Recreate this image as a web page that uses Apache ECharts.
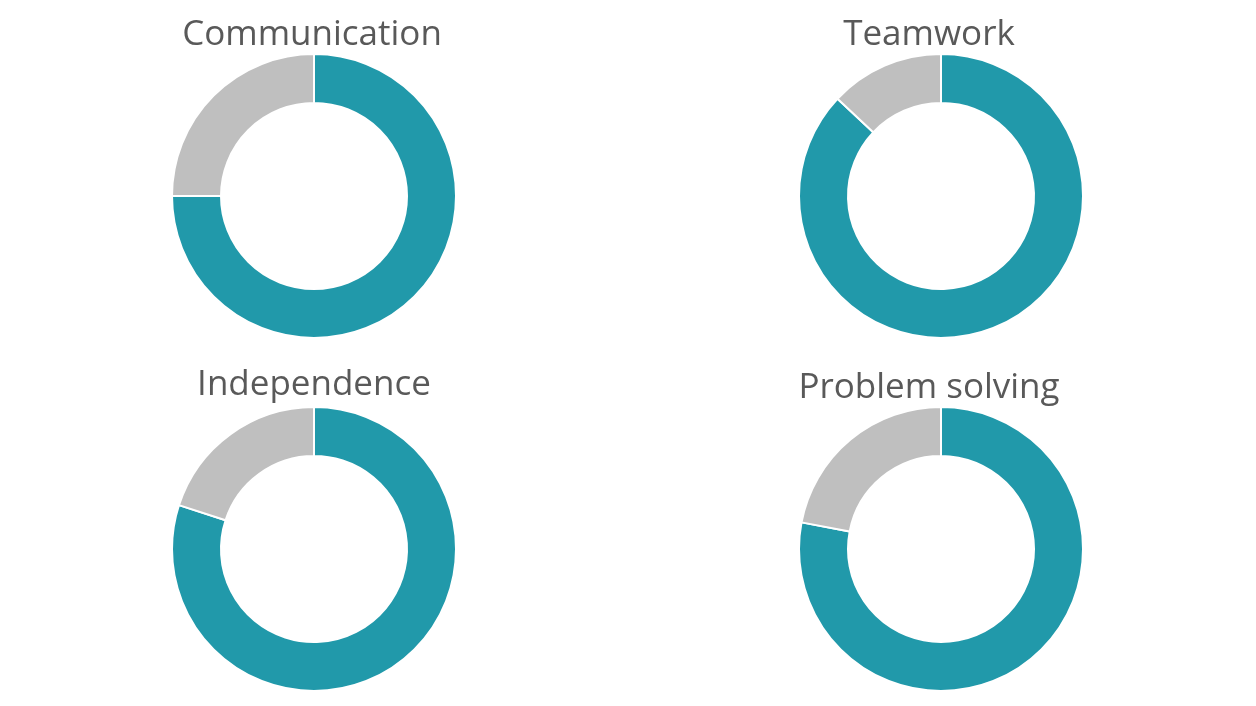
<!DOCTYPE html>
<html>
<head>
<meta charset="utf-8">
<script src="https://cdn.jsdelivr.net/npm/echarts@6/dist/echarts.min.js"></script>
<style>
html,body{margin:0;padding:0;background:#fff;}
#chart{width:1256px;height:706px;}
</style>
</head>
<body>
<div id="chart"></div>
<script>
const skills = ["Communication", "Teamwork", "Independence", "Problem solving"];
const achieved = [75, 87, 80, 78];
const remaining = [25, 13, 20, 22];

const centers = [[314, 196], [941, 196], [314, 549], [941, 549]];
const titlePos = [[312, 18], [929, 18], [314, 368], [929, 371]];
const teal = "#2199AA";
const grey = "#BFBFBF";

const chart = echarts.init(document.getElementById('chart'));
chart.setOption({
  animation: false,
  backgroundColor: '#ffffff',
  title: skills.map((s, i) => ({
    text: s,
    left: titlePos[i][0],
    top: titlePos[i][1],
    padding: 0,
    textAlign: 'center',
    textStyle: { fontFamily: 'Open Sans', fontSize: 35, fontWeight: 'normal', color: '#595959' }
  })),
  series: skills.map((s, i) => ({
    type: 'pie',
    center: centers[i],
    radius: [93, 142],
    startAngle: 90,
    clockwise: true,
    silent: true,
    label: { show: false },
    labelLine: { show: false },
    itemStyle: { borderColor: '#ffffff', borderWidth: 2 },
    data: [
      { name: 'Achieved', value: achieved[i], itemStyle: { color: teal } },
      { name: 'Remaining', value: remaining[i], itemStyle: { color: grey } }
    ]
  }))
});
</script>
</body>
</html>
